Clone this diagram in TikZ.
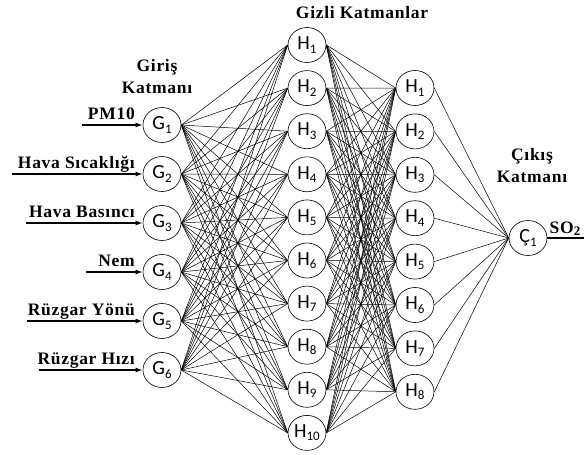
\documentclass[tikz,border=0pt]{standalone}
\usepackage{fontspec}
\setmainfont{Liberation Serif}
\newfontfamily\nodefont{Carlito}
\newfontfamily\lblfont[LetterSpace=4]{Liberation Serif}
\usetikzlibrary{arrows.meta,shapes.geometric}
\newcommand{\lsub}[1]{\raisebox{-0.35ex}{\fontsize{13}{13}\selectfont #1}}
\tikzset{
  neuron/.style={ellipse, draw=black, line width=0.6pt, fill=white,
    minimum width=38pt, minimum height=35pt, inner sep=0pt,
    font=\nodefont\fontsize{20}{20}\selectfont},
  lbl/.style={font=\lblfont\bfseries\fontsize{17.5}{20}\selectfont, inner sep=0pt},
  layertitle/.style={font=\lblfont\bfseries\fontsize{17.5}{22}\selectfont,
    align=center, inner sep=0pt},
  link/.style={draw=black, line width=0.5pt},
  inarrow/.style={-{Latex[length=7pt,width=5pt]}, draw=black, line width=1.8pt},
}
\begin{document}
\begin{tikzpicture}[x=1pt,y=-1pt]
  \useasboundingbox (0,0) rectangle (584,455);
  \foreach \i/\txt/\sx in {1/PM10/82, 2/Hava Sıcaklığı/12, 3/Hava Basıncı/26,
      4/Nem/86, 5/Rüzgar Yönü/27, 6/Rüzgar Hızı/39} {
    \node[neuron] (G\i) at (162,{125+49*(\i-1)}) {G\lsub{\i}};
    \coordinate (s\i) at (\sx,{125+49*(\i-1)});
    \node[lbl, anchor=base east] (l\i) at (135,{119+49*(\i-1)}) {\txt};
  }
  \foreach \j in {1,...,10}
    \node[neuron] (A\j) at (307,{45+43.1*(\j-1)}) {H\lsub{\j}};
  \foreach \k in {1,...,8}
    \node[neuron] (B\k) at (415,{88+43.4*(\k-1)}) {H\lsub{\k}};
  \node[neuron] (C1) at (528,238) {Ç\lsub{1}};
  \coordinate (out) at (584,238);

  \foreach \i in {1,...,6}
    \foreach \j in {1,...,10}
      \draw[link] (G\i.east) -- (A\j.west);
  \foreach \j in {1,...,10}
    \foreach \k in {1,...,8}
      \draw[link] (A\j.east) -- (B\k.west);
  \foreach \k in {1,...,8}
    \draw[link] (B\k.east) -- (C1.west);

  \foreach \i in {1,...,6}
    \draw[inarrow] (s\i) -- (G\i.west);
  \draw[draw=black, line width=1.8pt] (C1.east) -- (out);
  \node[lbl, anchor=base] (so) at (565,233) {SO\lsub{2}};

  \node[layertitle] (tin) at (157,77) {Giriş\\Katmanı};
  \node[layertitle] (thid) at (362,13) {Gizli Katmanlar};
  \node[layertitle] (tout) at (532,166) {Çıkış\\Katmanı};
\end{tikzpicture}
\end{document}
